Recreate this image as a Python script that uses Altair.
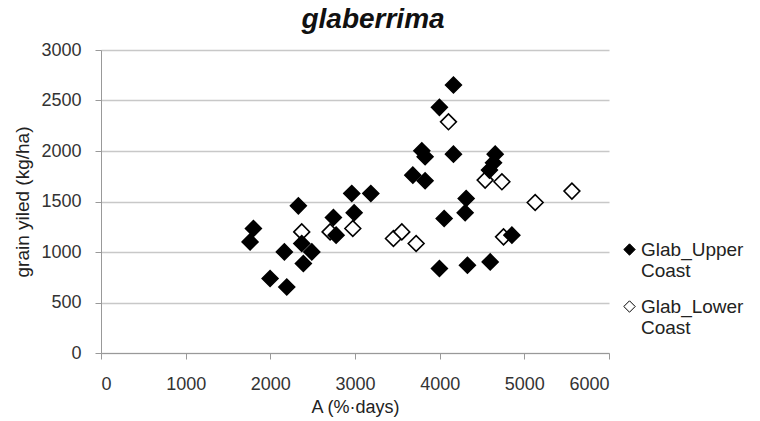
import altair as alt
import pandas as pd

upper_x = [1800, 1761, 2331, 2166, 1997, 2194, 2371, 2490, 2390, 2745, 2777, 2962,
           3187, 2990, 3789, 3828, 3683, 3828, 4163, 3997, 4163, 4656, 4636, 4588,
           4313, 4301, 4053, 4853, 3997, 4328, 4597]
upper_y = [1233, 1100, 1457, 1001, 737, 654, 1084, 1001, 886, 1342, 1167, 1580,
           1580, 1388, 2002, 1943, 1761, 1705, 2653, 2432, 1969, 1969, 1883, 1811,
           1530, 1388, 1332, 1167, 836, 869, 902]
lower_x = [2371, 2706, 2974, 3454, 3553, 3722, 4104, 4537, 4735, 4754, 5128, 5562]
lower_y = [1199, 1199, 1233, 1134, 1199, 1084, 2289, 1712, 1695, 1150, 1490, 1603]
series = ["Glab_Upper Coast", "Glab_Lower Coast"]
x_ticks = [0, 1000, 2000, 3000, 4000, 5000, 6000]
y_ticks = [0, 500, 1000, 1500, 2000, 2500, 3000]

rows = [{"A": a, "Y": b, "series": series[1]} for a, b in zip(lower_x, lower_y)]
rows += [{"A": a, "Y": b, "series": series[0]} for a, b in zip(upper_x, upper_y)]
df = pd.DataFrame(rows)

FONT = "Liberation Sans"

chart = alt.Chart(df).mark_point(
    shape="diamond", size=250, filled=True, stroke="black", strokeWidth=1.6, opacity=1
).encode(
    x=alt.X("A:Q", scale=alt.Scale(domain=[0, 6000], nice=False, zero=False),
            axis=alt.Axis(values=x_ticks, title="A (%·days)", grid=False, format="d",
                          tickSize=6, labelPadding=16, titlePadding=5,
                          labelFontSize=18, titleFontSize=18, titleFontWeight="normal",
                          labelFont=FONT, titleFont=FONT, labelColor="#333", titleColor="#222",
                          domainColor="#999", tickColor="#999")),
    y=alt.Y("Y:Q", scale=alt.Scale(domain=[0, 3000], nice=False),
            axis=alt.Axis(values=y_ticks, title="grain yiled  (kg/ha)", grid=True, format="d",
                          tickSize=6, labelPadding=14, titlePadding=8,
                          labelFontSize=18, titleFontSize=19, titleFontWeight="normal",
                          labelFont=FONT, titleFont=FONT, labelColor="#333", titleColor="#222",
                          domainColor="#999", tickColor="#999", gridColor="#c8c8c8",
                          gridWidth=1.3)),
    fill=alt.Fill("series:N", scale=alt.Scale(domain=series, range=["black", "white"]),
                  legend=alt.Legend(title=None, orient="none", legendX=519, legendY=190,
                                    symbolType="diamond", symbolSize=130,
                                    symbolStrokeColor="black", symbolStrokeWidth=1,
                                    labelExpr="split(datum.label, ' ')",
                                    labelFont=FONT, labelFontSize=19, labelColor="#222",
                                    labelOffset=2, rowPadding=16,
                                    padding=0, labelLimit=200)),
).properties(
    width=508, height=303,
    title=alt.TitleParams("glaberrima", fontSize=28, fontWeight="bold", fontStyle="italic",
                          font=FONT, anchor="middle", dx=18, offset=7, color="#111"),
    autosize=alt.AutoSizeParams(type="none"),
    padding={"left": 101, "top": 50, "right": 151, "bottom": 68},
).configure_view(stroke=None)

chart.save("out.html", embed_options={"renderer": "svg", "actions": False})
